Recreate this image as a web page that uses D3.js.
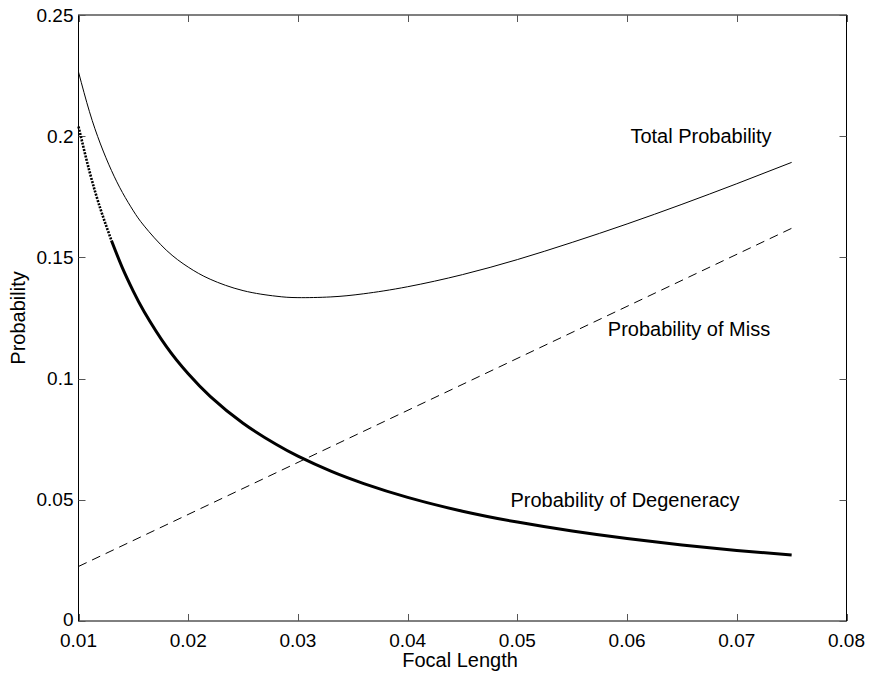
<!DOCTYPE html>
<html>
<head>
<meta charset="utf-8">
<script src="https://cdn.jsdelivr.net/npm/d3@7"></script>
<style>
body { margin: 0; background: #fff; }
text { font-family: "Liberation Sans", Arial, sans-serif; font-size: 20px; fill: #000; }
text.tick { font-size: 19px; }
</style>
</head>
<body>
<script>
// valeurs
var focal = [0.010, 0.011, 0.012, 0.013, 0.014, 0.015, 0.016, 0.018, 0.020, 0.022, 0.025, 0.028,
             0.030, 0.033, 0.036, 0.040, 0.045, 0.050, 0.055, 0.060, 0.065, 0.070, 0.075];
var degeneracy = [0.204, 0.1855, 0.170, 0.157, 0.1457, 0.136, 0.1275, 0.1133, 0.102, 0.0927, 0.0816, 0.0729,
                  0.068, 0.0618, 0.0567, 0.051, 0.0453, 0.0408, 0.0371, 0.034, 0.0314, 0.0291, 0.0272];
var total = [0.2265, 0.2101, 0.1968, 0.1859, 0.1768, 0.1692, 0.1629, 0.1530, 0.1460, 0.1410, 0.1363, 0.1340,
             0.1334, 0.1337, 0.1350, 0.1379, 0.1429, 0.1491, 0.1562, 0.1638, 0.1719, 0.1804, 0.1892];
var missFocal = [0.010, 0.075];
var miss = [0.0225, 0.162];

var xTicks = [0.01, 0.02, 0.03, 0.04, 0.05, 0.06, 0.07, 0.08];
var yTicks = [0, 0.05, 0.1, 0.15, 0.2, 0.25];
var xTickLabels = ["0.01", "0.02", "0.03", "0.04", "0.05", "0.06", "0.07", "0.08"];
var yTickLabels = ["0", "0.05", "0.1", "0.15", "0.2", "0.25"];

var svg = d3.select("body").append("svg").attr("width", 869).attr("height", 678);

var mLeft = 78.5, mRight = 846.5, mTop = 15, mBottom = 621;
var x = d3.scaleLinear().domain([0.01, 0.08]).range([mLeft, mRight]);
var y = d3.scaleLinear().domain([0, 0.25]).range([mBottom, mTop]);

// cadre
svg.append("rect").attr("x", mLeft).attr("y", mTop).attr("width", mRight - mLeft).attr("height", mBottom - mTop)
    .attr("fill", "none").attr("stroke", "#000").attr("stroke-width", 1);

// graduations vers l'intérieur, sur les quatre côtés
var tk = 7;
xTicks.forEach(function(t, i) {
    var px = Math.round(x(t)) + 0.5;
    svg.append("line").attr("x1", px).attr("x2", px).attr("y1", mBottom).attr("y2", mBottom - tk).attr("stroke", "#555");
    svg.append("line").attr("x1", px).attr("x2", px).attr("y1", mTop).attr("y2", mTop + tk).attr("stroke", "#555");
    svg.append("text").attr("class", "tick").attr("x", x(t)).attr("y", mBottom + 26).attr("text-anchor", "middle").text(xTickLabels[i]);
});
yTicks.forEach(function(t, i) {
    var py = Math.round(y(t)) + 0.5;
    svg.append("line").attr("x1", mLeft).attr("x2", mLeft + tk).attr("y1", py).attr("y2", py).attr("stroke", "#555");
    svg.append("line").attr("x1", mRight).attr("x2", mRight - tk).attr("y1", py).attr("y2", py).attr("stroke", "#555");
    svg.append("text").attr("class", "tick").attr("x", mLeft - 5).attr("y", y(t) + (t === 0 ? 5 : 6.5))
        .attr("text-anchor", "end").text(yTickLabels[i]);
});

svg.append("text").attr("x", 460).attr("y", 667).attr("text-anchor", "middle").text("Focal Length");
svg.append("text").attr("transform", "translate(25," + ((mTop + mBottom) / 2) + ") rotate(-90)")
    .attr("text-anchor", "middle").text("Probability");

var line = d3.line().x(function(d) { return x(d[0]); }).y(function(d) { return y(d[1]); }).curve(d3.curveNatural);

var totalPts = focal.map(function(f, i) { return [f, total[i]]; });
var degPts = focal.map(function(f, i) { return [f, degeneracy[i]]; });
var missPts = missFocal.map(function(f, i) { return [f, miss[i]]; });

svg.append("path").attr("d", line(totalPts)).attr("fill", "none").attr("stroke", "#000").attr("stroke-width", 1);
svg.append("path").attr("d", line(missPts)).attr("fill", "none").attr("stroke", "#000").attr("stroke-width", 1)
    .attr("stroke-dasharray", "9,6");

// début en pointillé (points espacés), puis trait épais
var degStart = degPts.filter(function(d) { return d[0] <= 0.013; });
var degRest = degPts.filter(function(d) { return d[0] >= 0.013; });
svg.append("path").attr("d", line(degStart)).attr("fill", "none").attr("stroke", "#000").attr("stroke-width", 2.6)
    .attr("stroke-dasharray", "2,1.3");
svg.append("path").attr("d", line(degRest)).attr("fill", "none").attr("stroke", "#000").attr("stroke-width", 3);

svg.append("text").attr("x", 701).attr("y", 143).attr("text-anchor", "middle").text("Total Probability");
svg.append("text").attr("x", 689).attr("y", 336).attr("text-anchor", "middle").text("Probability of Miss");
svg.append("text").attr("x", 625).attr("y", 507).attr("text-anchor", "middle").text("Probability of Degeneracy");
</script>
</body>
</html>
